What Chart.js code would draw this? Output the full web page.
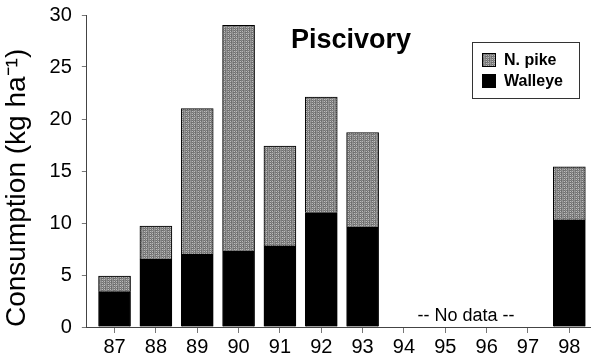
<!DOCTYPE html>
<html>
<head>
<meta charset="utf-8">
<script src="https://cdn.jsdelivr.net/npm/chart.js@4.4.0/dist/chart.umd.min.js"></script>
<style>
  html, body { margin: 0; padding: 0; background: #fff; }
  #wrap { width: 593px; height: 363px; }
</style>
</head>
<body>
<div id="wrap"><canvas id="chart"></canvas></div>
<script>
const years = [87, 88, 89, 90, 91, 92, 93, 98];
const walleye = [3.4, 6.5, 7.0, 7.3, 7.8, 11.0, 9.6, 10.3];
const pike = [1.5, 3.2, 14.0, 21.7, 9.6, 11.1, 9.1, 5.1];
const xTicks = [87, 88, 89, 90, 91, 92, 93, 94, 95, 96, 97, 98];
const yTicks = [0, 5, 10, 15, 20, 25, 30];

// grainy grey fill like the scanned screen tone
function greyPattern() {
  const c = document.createElement('canvas');
  c.width = 6; c.height = 6;
  const g = c.getContext('2d');
  const shades = ['#6f6f6f', '#a8a8a8', '#8c8c8c', '#bcbcbc', '#7c7c7c', '#9c9c9c'];
  for (let y = 0; y < 6; y++) {
    for (let x = 0; x < 6; x++) {
      g.fillStyle = shades[(x * 2 + y * 3 + (x * y) % 4) % 6];
      g.fillRect(x, y, 1, 1);
    }
  }
  return g.createPattern(c, 'repeat');
}

const font = 'Liberation Sans, Arial, Helvetica, sans-serif';
const pikeFill = greyPattern();

const extras = {
  id: 'extras',
  afterDraw(chart) {
    const ctx = chart.ctx;
    const x = chart.scales.x, y = chart.scales.y;
    ctx.save();
    ctx.fillStyle = '#000';
    // panel title
    ctx.font = 'bold 27px ' + font;
    ctx.textAlign = 'center';
    ctx.textBaseline = 'alphabetic';
    ctx.fillText('Piscivory', 351, 48);
    // no data note
    ctx.font = '18px ' + font;
    ctx.fillText('-- No data --', x.getPixelForValue(95.5), y.getPixelForValue(0) - 6);
    // legend box
    ctx.strokeStyle = '#333';
    ctx.lineWidth = 1;
    ctx.strokeRect(472.5, 42.5, 107, 56);
    const items = [
      { label: 'N. pike', fill: pikeFill },
      { label: 'Walleye', fill: '#000' }
    ];
    ctx.textAlign = 'left';
    ctx.textBaseline = 'middle';
    ctx.font = 'bold 16px ' + font;
    items.forEach((it, i) => {
      const cy = 60 + i * 21;
      ctx.fillStyle = it.fill;
      ctx.fillRect(482, cy - 7, 14, 14);
      ctx.strokeStyle = '#000';
      ctx.strokeRect(482.5, cy - 6.5, 13, 13);
      ctx.fillStyle = '#000';
      ctx.fillText(it.label, 504, cy + 1);
    });
    ctx.restore();
  }
};

new Chart(document.getElementById('chart'), {
  type: 'bar',
  data: {
    datasets: [
      {
        label: 'Walleye',
        data: years.map((yr, i) => ({ x: yr, y: walleye[i] })),
        backgroundColor: '#000',
        borderColor: '#000',
        borderWidth: 1,
        barThickness: 32
      },
      {
        label: 'N. pike',
        data: years.map((yr, i) => ({ x: yr, y: pike[i] })),
        backgroundColor: pikeFill,
        borderColor: '#000',
        borderWidth: 1,
        barThickness: 32
      }
    ]
  },
  options: {
    responsive: true,
    maintainAspectRatio: false,
    animation: false,
    layout: { padding: { top: 0, right: 3, bottom: 2, left: 0 } },
    plugins: {
      legend: { display: false },
      tooltip: { enabled: false }
    },
    scales: {
      x: {
        type: 'linear',
        stacked: true,
        offset: false,
        min: 86.33,
        max: 98.5,
        afterBuildTicks: (s) => { s.ticks = xTicks.map(v => ({ value: v })); },
        grid: { offset: false, drawOnChartArea: false, tickLength: 6, color: '#777' },
        border: { color: '#444', width: 1 },
        ticks: { color: '#000', font: { family: font, size: 20 }, padding: 2, autoSkip: false, maxRotation: 0 }
      },
      y: {
        stacked: true,
        min: 0,
        max: 30,
        afterBuildTicks: (s) => { s.ticks = yTicks.map(v => ({ value: v })); },
        afterFit: (s) => { s.paddingTop = 15; },
        grid: { drawOnChartArea: false, tickLength: 5, color: '#777' },
        border: { color: '#444', width: 1 },
        ticks: { color: '#000', font: { family: font, size: 20 }, padding: 10 },
        title: {
          display: true,
          align: 'start',
          text: 'Consumption (kg ha\u207B\u00B9)',
          color: '#000',
          font: { family: font, size: 28 },
          padding: { top: 0, bottom: 6 }
        }
      }
    }
  },
  plugins: [extras]
});
</script>
</body>
</html>
